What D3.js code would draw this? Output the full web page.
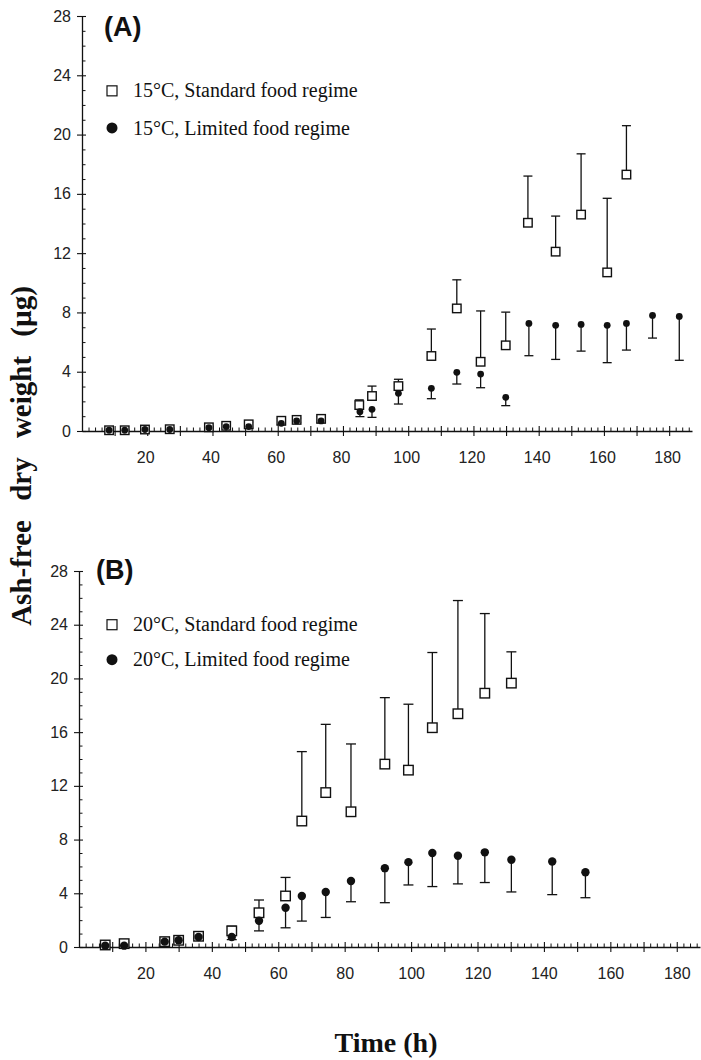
<!DOCTYPE html>
<html>
<head>
<meta charset="utf-8">
<script src="https://cdn.jsdelivr.net/npm/d3@7"></script>
<style>
html,body{margin:0;padding:0;background:#fff;}
svg{display:block;}
</style>
</head>
<body>
<svg id="chart" width="701" height="1060"></svg>
<script>
// ---------- DATA ----------
// Panel A: 15°C
const A_timeStd = [8.3, 13.1, 19.3, 26.9, 38.9, 44.2, 51.1, 61.1, 65.8, 73.3, 85, 88.9, 97, 107.1, 114.9, 122.2, 129.9, 136.7, 145.2, 153, 161, 166.9];
const A_std     = [0.05, 0.05, 0.1, 0.12, 0.25, 0.35, 0.45, 0.69, 0.75, 0.82, 1.75, 2.36, 3.03, 5.06, 8.27, 4.67, 5.78, 14.05, 12.1, 14.6, 10.7, 17.3];
const A_stdErr  = [0.05, 0.05, 0.08, 0.08, 0.1, 0.12, 0.15, 0.15, 0.12, 0.15, 0.35, 0.67, 0.46, 1.82, 1.93, 3.43, 2.24, 3.15, 2.4, 4.1, 5.0, 3.3];
const A_timeLim = [8.3, 13.1, 19.3, 26.9, 38.9, 44.2, 51.1, 61.1, 65.8, 73.3, 85.2, 88.9, 97, 107.1, 114.9, 122.2, 129.9, 137, 145.2, 153, 161, 166.9, 174.9, 183.1];
const A_lim     = [0.05, 0.05, 0.1, 0.1, 0.22, 0.3, 0.3, 0.52, 0.68, 0.68, 1.3, 1.46, 2.54, 2.88, 3.96, 3.84, 2.27, 7.26, 7.13, 7.19, 7.13, 7.26, 7.8, 7.73];
const A_limErr  = [0.03, 0.03, 0.05, 0.05, 0.08, 0.1, 0.1, 0.1, 0.1, 0.12, 0.33, 0.54, 0.72, 0.7, 0.79, 0.92, 0.56, 2.18, 2.3, 1.8, 2.52, 1.8, 1.53, 2.96];

// Panel B: 20°C
const B_timeStd = [7.9, 13.6, 25.8, 30, 36, 46, 54.2, 62.2, 67.1, 74.3, 81.9, 92.1, 99.2, 106.4, 114.1, 122.2, 130.2];
const B_std     = [0.15, 0.25, 0.4, 0.5, 0.8, 1.2, 2.55, 3.8, 9.38, 11.5, 10.07, 13.62, 13.17, 16.33, 17.37, 18.9, 19.65];
const B_stdErr  = [0.05, 0.1, 0.1, 0.1, 0.3, 0.35, 0.95, 1.38, 5.17, 5.08, 5.05, 4.95, 4.91, 5.6, 8.43, 5.93, 2.33];
const B_timeLim = [7.9, 13.6, 25.8, 30, 36, 46, 54.2, 62.2, 67.1, 74.3, 81.9, 92.1, 99.2, 106.4, 114.1, 122.2, 130.2, 142.5, 152.5];
const B_lim     = [0.1, 0.1, 0.4, 0.5, 0.75, 0.75, 1.95, 2.92, 3.8, 4.1, 4.92, 5.87, 6.32, 7.0, 6.8, 7.05, 6.5, 6.37, 5.57];
const B_limErr  = [0.05, 0.05, 0.1, 0.1, 0.1, 0.2, 0.75, 1.49, 1.87, 1.9, 1.55, 2.57, 1.7, 2.5, 2.1, 2.25, 2.4, 2.47, 1.9];

const xMajorTicks = [10, 20, 30, 40, 50, 60, 70, 80, 90, 100, 110, 120, 130, 140, 150, 160, 170, 180];
const xLabelTicks = [20, 40, 60, 80, 100, 120, 140, 160, 180];
const yMajorTicks = [0, 4, 8, 12, 16, 20, 24, 28];

const panelTitles = ["(A)", "(B)"];
const legendA = ["15°C, Standard food regime", "15°C, Limited food regime"];
const legendB = ["20°C, Standard food regime", "20°C, Limited food regime"];
const yTitle = "Ash-free dry weight (µg)";
const xTitle = "Time (h)";

// ---------- DRAW ----------
const svg = d3.select("#chart");
const SANS = "'Liberation Sans', Arial, sans-serif";
const SERIF = "'Liberation Serif', 'Times New Roman', serif";

function toRows(t, v, e) { return t.map((d, i) => ({ t: d, v: v[i], e: e[i] })); }

function panel(cfg) {
  const g = svg.append("g");
  const x = d3.scaleLinear().domain([0, 187]).range([cfg.x0, cfg.x1]);
  const y = d3.scaleLinear().domain([0, 28]).range([cfg.y0, cfg.y28]);

  // x minor ticks (inside)
  const xMinor = d3.range(2, 187, 2).filter(v => v % 10 !== 0);
  g.append("g").attr("transform", `translate(0,${cfg.y0})`)
    .call(d3.axisBottom(x).tickValues(xMinor).tickSize(-3.5).tickFormat(""))
    .call(a => a.select(".domain").remove())
    .selectAll(".tick line").attr("stroke", "#111").attr("stroke-width", 1);

  // x major ticks (crossing)
  const xa = g.append("g").attr("transform", `translate(0,${cfg.y0})`)
    .call(d3.axisBottom(x).tickValues(xMajorTicks).tickSize(5).tickSizeOuter(0).tickPadding(16)
      .tickFormat(d => xLabelTicks.includes(d) ? d : ""));
  xa.selectAll(".tick line").attr("y1", -5).attr("stroke", "#111").attr("stroke-width", 1.1);
  xa.select(".domain").attr("stroke", "#111").attr("stroke-width", 1.3);
  xa.selectAll(".tick text").attr("font-family", SANS).attr("font-size", 16).attr("fill", "#222")
    .attr("dx", cfg.labelDx);

  // y minor ticks (inside)
  const yMinor = d3.range(1, 28, 1).filter(v => v % 4 !== 0);
  g.append("g").attr("transform", `translate(${cfg.x0},0)`)
    .call(d3.axisLeft(y).tickValues(yMinor).tickSize(-3.5).tickFormat(""))
    .call(a => a.select(".domain").remove())
    .selectAll(".tick line").attr("stroke", "#111").attr("stroke-width", 1);

  // y major ticks (crossing)
  const ya = g.append("g").attr("transform", `translate(${cfg.x0},0)`)
    .call(d3.axisLeft(y).tickValues(yMajorTicks).tickSize(5).tickSizeOuter(0).tickPadding(6));
  ya.selectAll(".tick line").attr("x1", 4).attr("stroke", "#111").attr("stroke-width", 1.1);
  ya.select(".domain").attr("stroke", "#111").attr("stroke-width", 1.3);
  ya.selectAll(".tick text").attr("font-family", SANS).attr("font-size", 16).attr("fill", "#222");

  // error bars
  const cap = cfg.cap;
  const std = toRows(cfg.tStd, cfg.std, cfg.stdErr);
  const lim = toRows(cfg.tLim, cfg.lim, cfg.limErr);

  const eb = g.append("g").attr("stroke", "#111").attr("stroke-width", 1.3).attr("fill", "none");
  std.forEach(d => {
    eb.append("line").attr("x1", x(d.t)).attr("x2", x(d.t)).attr("y1", y(d.v)).attr("y2", y(d.v + d.e));
    eb.append("line").attr("x1", x(d.t) - cap).attr("x2", x(d.t) + cap).attr("y1", y(d.v + d.e)).attr("y2", y(d.v + d.e));
  });
  lim.forEach(d => {
    eb.append("line").attr("x1", x(d.t)).attr("x2", x(d.t)).attr("y1", y(d.v)).attr("y2", y(d.v - d.e));
    eb.append("line").attr("x1", x(d.t) - cap).attr("x2", x(d.t) + cap).attr("y1", y(d.v - d.e)).attr("y2", y(d.v - d.e));
  });

  // markers
  const s = cfg.sq;
  g.append("g").selectAll("rect").data(std).join("rect")
    .attr("x", d => x(d.t) - s / 2).attr("y", d => y(d.v) - s / 2)
    .attr("width", s).attr("height", s)
    .attr("fill", "#fff").attr("stroke", "#111").attr("stroke-width", 1.4);
  g.append("g").selectAll("circle").data(lim).join("circle")
    .attr("cx", d => x(d.t)).attr("cy", d => y(d.v)).attr("r", cfg.r)
    .attr("fill", "#111");

  // title
  g.append("text").attr("x", cfg.titleX).attr("y", y(cfg.titleV)).attr("dy", "0.35em")
    .attr("font-family", SANS).attr("font-weight", "bold").attr("font-size", 27).attr("fill", "#111")
    .text(cfg.title);

  // legend
  const lx = 112;
  const l1 = y(cfg.leg1), l2 = y(cfg.leg2);
  g.append("rect").attr("x", lx - 5).attr("y", l1 - 5).attr("width", 10).attr("height", 10)
    .attr("fill", "#fff").attr("stroke", "#111").attr("stroke-width", 1.2);
  g.append("circle").attr("cx", lx).attr("cy", l2).attr("r", 5.5).attr("fill", "#111");
  [l1, l2].forEach((ly, i) => {
    g.append("text").attr("x", 133).attr("y", ly).attr("dy", "0.33em")
      .attr("font-family", SERIF).attr("font-size", 20).attr("fill", "#111")
      .text(cfg.legend[i]);
  });
}

panel({
  x0: 82, x1: 692, y0: 431, y28: 16, labelDx: -2,
  tStd: A_timeStd, std: A_std, stdErr: A_stdErr,
  tLim: A_timeLim, lim: A_lim, limErr: A_limErr,
  cap: 4.5, sq: 8.5, r: 3.4,
  title: panelTitles[0], titleX: 104, titleV: 27.3,
  legend: legendA, leg1: 22.95, leg2: 20.45
});

panel({
  x0: 79, x1: 700, y0: 947, y28: 571, labelDx: 0,
  tStd: B_timeStd, std: B_std, stdErr: B_stdErr,
  tLim: B_timeLim, lim: B_lim, limErr: B_limErr,
  cap: 5, sq: 9.5, r: 4.2,
  title: panelTitles[1], titleX: 96, titleV: 28.1,
  legend: legendB, leg1: 24.0, leg2: 21.4
});

// axis titles
svg.append("text")
  .attr("transform", "translate(31,456) rotate(-90)")
  .attr("text-anchor", "middle")
  .attr("font-family", SERIF).attr("font-weight", "bold").attr("font-size", 29)
  .attr("word-spacing", 12).attr("fill", "#111")
  .text(yTitle);

svg.append("text")
  .attr("x", 386).attr("y", 1052).attr("text-anchor", "middle")
  .attr("font-family", SERIF).attr("font-weight", "bold").attr("font-size", 28).attr("fill", "#111")
  .text(xTitle);
</script>
</body>
</html>
